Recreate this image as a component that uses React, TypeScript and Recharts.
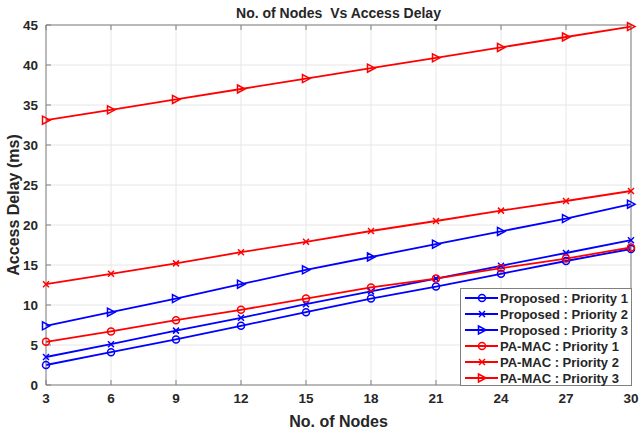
import React from 'react';
import { LineChart, Line, XAxis, YAxis, CartesianGrid, Legend } from 'recharts';

// x-axis categories
const nodes = [3, 6, 9, 12, 15, 18, 21, 24, 27, 30];

// access delay (ms)
const proposedP1 = [2.5, 4.1, 5.7, 7.4, 9.1, 10.8, 12.3, 13.9, 15.5, 17.0];
const proposedP2 = [3.5, 5.1, 6.8, 8.4, 10.1, 11.7, 13.3, 14.9, 16.5, 18.1];
const proposedP3 = [7.4, 9.1, 10.8, 12.6, 14.4, 16.0, 17.6, 19.2, 20.8, 22.6];
const pamacP1 = [5.4, 6.7, 8.1, 9.4, 10.8, 12.2, 13.3, 14.6, 15.8, 17.2];
const pamacP2 = [12.6, 13.9, 15.2, 16.6, 17.9, 19.25, 20.5, 21.8, 23.0, 24.25];
const pamacP3 = [33.1, 34.4, 35.7, 37.0, 38.3, 39.6, 40.9, 42.2, 43.5, 44.8];

const yTicks = [0, 5, 10, 15, 20, 25, 30, 35, 40, 45];

const BLUE = '#0000ff';
const RED = '#ff0000';
const TEXT = '#262626';
const AXIS = '#808080';
const FONT = '"Liberation Sans", Arial, Helvetica, sans-serif';

type MarkerKind = 'circle' | 'cross' | 'triangle';

const series: { key: string; name: string; color: string; marker: MarkerKind; values: number[] }[] = [
  { key: 'proposedP1', name: 'Proposed : Priority 1', color: BLUE, marker: 'circle', values: proposedP1 },
  { key: 'proposedP2', name: 'Proposed : Priority 2', color: BLUE, marker: 'cross', values: proposedP2 },
  { key: 'proposedP3', name: 'Proposed : Priority 3', color: BLUE, marker: 'triangle', values: proposedP3 },
  { key: 'pamacP1', name: 'PA-MAC : Priority 1', color: RED, marker: 'circle', values: pamacP1 },
  { key: 'pamacP2', name: 'PA-MAC : Priority 2', color: RED, marker: 'cross', values: pamacP2 },
  { key: 'pamacP3', name: 'PA-MAC : Priority 3', color: RED, marker: 'triangle', values: pamacP3 },
];

const data = nodes.map((n, i) => {
  const row: Record<string, number> = { nodes: n };
  series.forEach((s) => {
    row[s.key] = s.values[i];
  });
  return row;
});

const Marker = ({ kind, cx, cy, color }: { kind: MarkerKind; cx: number; cy: number; color: string }) => {
  if (kind === 'circle') {
    return <circle cx={cx} cy={cy} r={3.5} fill="none" stroke={color} strokeWidth={1.5} />;
  }
  if (kind === 'cross') {
    return (
      <g stroke={color} strokeWidth={1.5}>
        <line x1={cx - 3} y1={cy - 3} x2={cx + 3} y2={cy + 3} />
        <line x1={cx - 3} y1={cy + 3} x2={cx + 3} y2={cy - 3} />
      </g>
    );
  }
  return (
    <polygon
      points={`${cx - 3.5},${cy - 4} ${cx + 4},${cy} ${cx - 3.5},${cy + 4}`}
      fill="none"
      stroke={color}
      strokeWidth={1.5}
    />
  );
};

const LegendBox = () => (
  <div
    style={{
      boxSizing: 'border-box',
      width: 172,
      height: 98,
      border: `1px solid ${AXIS}`,
      background: '#fff',
      paddingTop: 1,
      fontFamily: FONT,
    }}
  >
    {series.map((s) => (
      <div key={s.key} style={{ display: 'flex', alignItems: 'center', height: 16 }}>
        <svg width={38} height={12} style={{ flex: 'none' }}>
          <line x1={4} x2={37} y1={6} y2={6} stroke={s.color} strokeWidth={1.8} />
          <Marker kind={s.marker} cx={21} cy={6} color={s.color} />
        </svg>
        <span style={{ fontSize: 13, fontWeight: 'bold', color: TEXT, marginLeft: 1, whiteSpace: 'nowrap' }}>
          {s.name}
        </span>
      </div>
    ))}
  </div>
);

const tickStyle = { fill: TEXT, fontSize: 13.5, fontWeight: 'bold', fontFamily: FONT };
const labelStyle = { fill: TEXT, fontSize: 16, fontWeight: 'bold', fontFamily: FONT };
const noTick = () => <g />;

export default function App() {
  return (
    <div style={{ position: 'fixed', left: 0, top: 0, width: 639, height: 434, background: '#fff' }}>
      <div
        style={{
          position: 'absolute',
          left: 46,
          width: 585,
          top: 4,
          lineHeight: '18px',
          textAlign: 'center',
          fontFamily: FONT,
          fontSize: 14,
          fontWeight: 'bold',
          color: TEXT,
        }}
      >
        No. of Nodes&nbsp; Vs Access Delay
      </div>
      <LineChart width={639} height={434} data={data} margin={{ top: 24, right: 7, bottom: 0, left: 0 }}>
        <CartesianGrid stroke="#e6e6e6" strokeWidth={1} />
        <XAxis
          dataKey="nodes"
          type="number"
          domain={[3, 30]}
          ticks={nodes}
          height={49}
          stroke={AXIS}
          tick={tickStyle}
          tickSize={-5}
          tickMargin={13}
          label={{
            value: 'No. of Nodes',
            position: 'insideBottom',
            offset: 7,
            style: labelStyle,
          }}
        />
        <XAxis
          xAxisId="top"
          orientation="top"
          dataKey="nodes"
          type="number"
          domain={[3, 30]}
          ticks={nodes}
          height={1}
          stroke={AXIS}
          tick={noTick}
          tickSize={-5}
        />
        <YAxis
          type="number"
          domain={[0, 45]}
          ticks={yTicks}
          width={46}
          stroke={AXIS}
          tick={tickStyle}
          tickSize={-5}
          tickMargin={13}
          label={{
            value: 'Access Delay (ms)',
            angle: -90,
            position: 'insideLeft',
            offset: 13,
            style: { ...labelStyle, textAnchor: 'middle' },
          }}
        />
        <YAxis
          yAxisId="right"
          orientation="right"
          type="number"
          domain={[0, 45]}
          ticks={yTicks}
          width={1}
          stroke={AXIS}
          tick={noTick}
          tickSize={-5}
        />
        <Legend
          layout="horizontal"
          align="center"
          verticalAlign="middle"
          content={<LegendBox />}
          wrapperStyle={{ left: 460, top: 288, width: 172, height: 98 }}
        />
        {series.map((s) => (
          <Line
            key={s.key}
            dataKey={s.key}
            name={s.name}
            type="linear"
            stroke={s.color}
            strokeWidth={1.8}
            isAnimationActive={false}
            dot={(p: any) => <Marker key={`${s.key}-${p.index}`} kind={s.marker} cx={p.cx} cy={p.cy} color={s.color} />}
            activeDot={false}
          />
        ))}
      </LineChart>
    </div>
  );
}
